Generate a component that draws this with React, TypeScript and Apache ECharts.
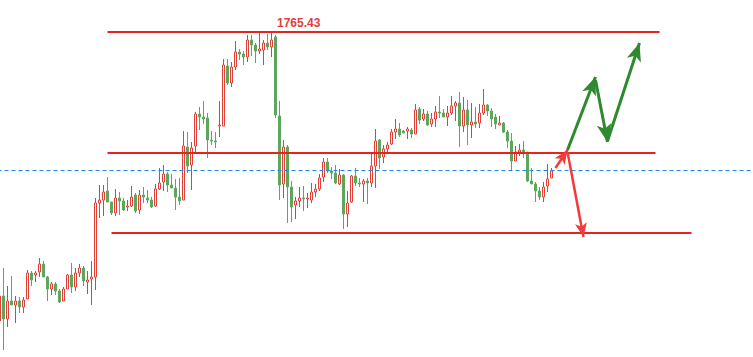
import React, { useEffect, useRef } from "react";
import * as echarts from "echarts";

// [open, close, low, high]
const ohlc: number[][] = [
  [1736.5, 1739.0, 1736.3, 1739.2],
  [1739.0, 1736.7, 1733.6, 1741.8],
  [1736.7, 1738.5, 1735.9, 1740.0],
  [1738.5, 1738.1, 1738.1, 1741.0],
  [1738.1, 1738.5, 1736.3, 1739.0],
  [1738.5, 1737.9, 1737.3, 1738.9],
  [1737.9, 1738.6, 1737.3, 1738.9],
  [1738.7, 1741.3, 1738.7, 1741.6],
  [1741.3, 1740.6, 1740.0, 1741.5],
  [1741.1, 1741.3, 1740.4, 1741.5],
  [1741.4, 1742.2, 1740.9, 1742.8],
  [1742.2, 1740.9, 1740.9, 1742.5],
  [1740.9, 1739.7, 1738.5, 1741.0],
  [1739.7, 1740.2, 1739.1, 1740.4],
  [1740.2, 1739.5, 1739.1, 1740.4],
  [1739.5, 1738.4, 1738.3, 1739.7],
  [1738.5, 1739.7, 1738.5, 1739.9],
  [1739.7, 1741.1, 1739.7, 1741.2],
  [1741.1, 1739.9, 1739.3, 1742.3],
  [1739.9, 1741.3, 1739.5, 1741.8],
  [1741.3, 1741.8, 1740.9, 1742.2],
  [1741.8, 1740.5, 1740.0, 1742.0],
  [1740.4, 1740.6, 1739.2, 1741.5],
  [1740.7, 1740.9, 1738.1, 1742.5],
  [1740.9, 1748.3, 1739.6, 1748.8],
  [1748.3, 1748.6, 1746.8, 1750.1],
  [1748.6, 1749.4, 1747.0, 1750.1],
  [1749.5, 1748.4, 1748.4, 1750.9],
  [1748.4, 1747.3, 1747.1, 1748.4],
  [1747.3, 1748.8, 1747.0, 1749.7],
  [1748.8, 1748.5, 1747.1, 1749.4],
  [1748.5, 1747.6, 1747.5, 1748.8],
  [1747.9, 1748.0, 1747.5, 1748.6],
  [1748.0, 1748.9, 1747.9, 1750.0],
  [1749.1, 1747.5, 1747.3, 1749.3],
  [1747.6, 1749.1, 1747.2, 1749.6],
  [1749.1, 1748.9, 1748.3, 1749.9],
  [1748.8, 1748.6, 1748.3, 1749.6],
  [1748.6, 1747.9, 1747.8, 1748.9],
  [1748.0, 1749.7, 1747.9, 1750.2],
  [1749.7, 1750.3, 1749.6, 1751.8],
  [1750.4, 1751.2, 1749.5, 1752.1],
  [1751.2, 1750.1, 1749.4, 1751.4],
  [1750.1, 1749.8, 1749.8, 1751.2],
  [1749.8, 1748.9, 1747.6, 1750.7],
  [1748.9, 1748.5, 1748.1, 1750.8],
  [1748.6, 1754.0, 1748.6, 1755.5],
  [1753.9, 1752.0, 1751.3, 1755.4],
  [1752.1, 1753.8, 1749.6, 1754.4],
  [1754.0, 1757.2, 1753.4, 1757.4],
  [1757.2, 1756.9, 1755.6, 1757.9],
  [1756.9, 1756.7, 1756.2, 1758.5],
  [1756.8, 1754.6, 1752.8, 1757.3],
  [1754.6, 1754.5, 1754.1, 1755.5],
  [1754.5, 1754.4, 1753.8, 1755.4],
  [1756.0, 1756.1, 1754.9, 1758.5],
  [1756.0, 1762.1, 1756.0, 1762.7],
  [1762.0, 1760.3, 1760.1, 1762.7],
  [1760.3, 1761.9, 1759.9, 1762.4],
  [1761.9, 1763.4, 1761.6, 1764.5],
  [1763.4, 1763.2, 1762.6, 1763.7],
  [1763.2, 1762.9, 1762.1, 1763.5],
  [1762.9, 1764.6, 1762.4, 1765.1],
  [1764.6, 1764.1, 1763.0, 1765.1],
  [1764.1, 1763.5, 1762.3, 1764.3],
  [1763.5, 1763.7, 1763.2, 1765.4],
  [1763.6, 1764.3, 1762.1, 1764.6],
  [1764.3, 1763.9, 1763.6, 1765.2],
  [1763.9, 1764.6, 1762.9, 1765.43],
  [1764.9, 1757.1, 1756.8, 1765.1],
  [1757.0, 1750.1, 1748.6, 1758.5],
  [1750.2, 1753.9, 1748.8, 1754.6],
  [1753.9, 1749.9, 1746.3, 1754.1],
  [1749.9, 1747.9, 1746.4, 1750.5],
  [1748.1, 1748.5, 1746.7, 1748.9],
  [1748.5, 1748.8, 1747.9, 1749.9],
  [1748.8, 1748.7, 1747.5, 1750.0],
  [1748.7, 1748.8, 1747.8, 1749.3],
  [1748.6, 1749.4, 1748.3, 1750.3],
  [1749.4, 1749.7, 1748.9, 1750.2],
  [1749.7, 1750.8, 1749.5, 1751.2],
  [1750.9, 1752.4, 1750.4, 1752.8],
  [1752.4, 1751.5, 1751.3, 1752.8],
  [1751.5, 1751.3, 1750.7, 1751.9],
  [1751.3, 1750.3, 1750.2, 1752.1],
  [1750.2, 1751.1, 1750.1, 1751.7],
  [1751.1, 1747.2, 1745.7, 1751.2],
  [1747.2, 1748.3, 1745.9, 1749.5],
  [1748.4, 1751.0, 1748.3, 1751.1],
  [1751.0, 1750.3, 1750.0, 1751.8],
  [1750.3, 1750.2, 1749.9, 1750.8],
  [1750.2, 1750.5, 1748.4, 1750.7],
  [1750.5, 1750.3, 1748.2, 1750.8],
  [1750.3, 1752.0, 1749.9, 1753.3],
  [1752.0, 1754.5, 1749.8, 1755.7],
  [1754.6, 1752.8, 1751.7, 1754.7],
  [1752.9, 1753.7, 1752.3, 1754.1],
  [1753.7, 1754.1, 1753.2, 1754.4],
  [1754.2, 1755.4, 1754.1, 1755.7],
  [1755.4, 1755.7, 1754.7, 1756.7],
  [1755.7, 1755.1, 1754.9, 1756.3],
  [1755.5, 1755.3, 1755.3, 1755.6],
  [1755.5, 1755.7, 1754.7, 1755.9],
  [1755.6, 1755.2, 1754.8, 1755.8],
  [1755.2, 1757.6, 1755.2, 1758.2],
  [1757.7, 1756.6, 1756.2, 1757.9],
  [1756.7, 1757.2, 1756.5, 1757.7],
  [1757.2, 1756.1, 1756.0, 1757.5],
  [1756.2, 1756.7, 1755.9, 1757.3],
  [1756.7, 1757.4, 1755.9, 1758.0],
  [1757.4, 1757.3, 1756.8, 1759.0],
  [1757.3, 1756.9, 1756.9, 1757.7],
  [1756.9, 1757.3, 1756.0, 1758.0],
  [1757.3, 1758.0, 1757.1, 1759.0],
  [1758.0, 1758.3, 1756.5, 1758.5],
  [1758.3, 1756.0, 1753.9, 1759.4],
  [1756.0, 1757.6, 1755.4, 1758.9],
  [1757.6, 1756.1, 1754.1, 1758.6],
  [1756.1, 1756.4, 1754.8, 1758.3],
  [1756.4, 1756.2, 1755.8, 1757.9],
  [1756.3, 1757.3, 1755.8, 1758.2],
  [1757.3, 1758.1, 1757.1, 1759.7],
  [1758.1, 1757.5, 1757.0, 1758.2],
  [1757.5, 1756.7, 1755.9, 1757.8],
  [1756.9, 1756.2, 1755.7, 1757.2],
  [1756.1, 1756.3, 1756.1, 1757.0],
  [1756.3, 1755.4, 1755.3, 1756.4],
  [1755.4, 1754.5, 1753.8, 1755.6],
  [1754.5, 1752.5, 1751.6, 1755.3],
  [1752.5, 1753.4, 1752.5, 1754.0],
  [1753.4, 1753.6, 1753.0, 1754.2],
  [1753.6, 1753.4, 1752.8, 1754.5],
  [1753.4, 1750.5, 1750.4, 1753.4],
  [1750.5, 1750.2, 1750.2, 1751.8],
  [1750.2, 1749.5, 1748.4, 1750.4],
  [1749.5, 1748.9, 1748.6, 1749.9],
  [1748.9, 1749.9, 1748.4, 1750.4],
  [1750.0, 1750.7, 1749.4, 1752.2],
  [1750.8, 1751.5, 1750.8, 1751.8],
];

// horizontal levels: [value, fromIndex, toIndex]
const levels: number[][] = [
  [1765.43, 27, 165],
  [1753.3, 27, 164],
  [1745.3, 28, 173],
];
const currentPrice = 1751.55;
const highLabel = "1765.43";

// scenario arrows: [[fromIdx, fromPrice], [toIdx, toPrice]]
const greenArrows: number[][][] = [
  [[141.8, 1753.6], [148.5, 1760.9]],
  [[149.0, 1760.6], [151.6, 1754.4]],
  [[151.8, 1754.5], [160.4, 1764.3]],
];
const redArrows: number[][][] = [
  [[138.5, 1751.8], [141.9, 1753.6]],
  [[141.9, 1753.4], [146.0, 1744.9]],
];

const TOTAL_SLOTS = 189;
const categories = Array.from({ length: TOTAL_SLOTS }, (_, i) => String(i));

export default function App() {
  const ref = useRef<HTMLDivElement>(null);
  useEffect(() => {
    if (!ref.current) return;
    const chart = echarts.init(ref.current, null, { renderer: "svg" });
    const RED = "#e6241c";
    const GREEN_ARROW = "#2f8a2f";
    const RED_ARROW = "#f43a3a";

    const levelLines = levels.map(([v, a, b]) => [
      { coord: [a, v], symbol: "none", lineStyle: { color: RED, width: 2, type: "solid" } },
      { coord: [b, v], symbol: "none" },
    ]);
    const greenLines = greenArrows.map(([p, q]) => [
      { coord: p, symbol: "none", lineStyle: { color: GREEN_ARROW, width: 3, type: "solid" } },
      { coord: q, symbol: "arrow", symbolSize: [11, 18] },
    ]);
    const redLines = redArrows.map(([p, q]) => [
      { coord: p, symbol: "none", lineStyle: { color: RED_ARROW, width: 2.5, type: "solid" } },
      { coord: q, symbol: "arrow", symbolSize: [9, 14] },
    ]);

    chart.setOption({
      animation: false,
      backgroundColor: "#ffffff",
      grid: { left: 1.5, top: 0, width: TOTAL_SLOTS * 4, height: 357 },
      xAxis: {
        type: "category",
        data: categories,
        show: false,
        boundaryGap: true,
      },
      yAxis: {
        type: "value",
        min: 1732.9,
        max: 1768.6,
        show: false,
        splitLine: { show: false },
      },
      graphic: [
        {
          type: "text",
          left: 281,
          top: 17,
          style: {
            text: highLabel,
            fill: "#e0403a",
            font: "bold 12px 'Liberation Sans', Arial, sans-serif",
          },
        },
      ],
      series: [
        {
          type: "candlestick",
          data: ohlc,
          barWidth: 2,
          itemStyle: {
            color: "#ffffff",
            color0: "#5ca75c",
            borderColor: "#e0403a",
            borderColor0: "#5ca75c",
            borderWidth: 1,
          },
          silent: true,
          markLine: {
            silent: true,
            animation: false,
            symbol: ["none", "none"],
            label: { show: false },
            emphasis: { disabled: true },
            data: [
              {
                yAxis: currentPrice,
                symbol: "none",
                lineStyle: { color: "#1e86e6", width: 1, type: [4, 3] },
              },
              ...levelLines,
              ...redLines,
              ...greenLines,
            ],
          },
        },
      ],
    });
    return () => chart.dispose();
  }, []);
  return (
    <div
      ref={ref}
      style={{ position: "fixed", left: -4, top: 0, width: 758, height: 357, background: "#fff" }}
    />
  );
}
